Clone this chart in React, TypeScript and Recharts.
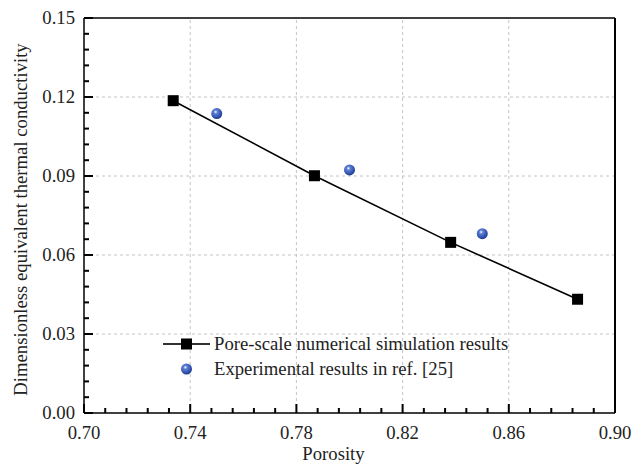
import {
  ScatterChart, Scatter, XAxis, YAxis, ReferenceLine, Legend
} from 'recharts';

// pore-scale simulation (black squares + line)
const simPorosity = [0.7336, 0.7868, 0.8381, 0.8859];
const simConductivity = [0.1186, 0.0901, 0.0648, 0.0432];

// experimental results from ref. [25] (blue spheres)
const expPorosity = [0.75, 0.80, 0.85];
const expConductivity = [0.1137, 0.0923, 0.0681];

const xMajor = [0.70, 0.74, 0.78, 0.82, 0.86, 0.90];
const xLabels = ['0.70', '0.74', '0.78', '0.82', '0.86', '0.90'];
const yMajor = [0, 0.03, 0.06, 0.09, 0.12, 0.15];
const yLabels = ['0.00', '0.03', '0.06', '0.09', '0.12', '0.15'];

const simData = simPorosity.map((x, i) => ({ x, y: simConductivity[i] }));
const expData = expPorosity.map((x, i) => ({ x, y: expConductivity[i] }));

// minor ticks: 4 between each pair of majors
const withMinor = (major: number[], n: number) => {
  const out: number[] = [];
  for (let i = 0; i < major.length - 1; i++) {
    for (let k = 0; k < n; k++) out.push(major[i] + ((major[i + 1] - major[i]) * k) / n);
  }
  out.push(major[major.length - 1]);
  return out;
};

const xTicks = withMinor(xMajor, 5);
const yTicks = withMinor(yMajor, 5);

const FONT = '"Liberation Serif", "Times New Roman", Times, serif';
const txt = { fontFamily: FONT, fontSize: 18.7, fill: '#222' };

const majorIndex = (list: number[], v: number) =>
  list.findIndex((m) => Math.abs(m - v) < 1e-9);

const XTick = (props: any) => {
  const { x, y, payload } = props;
  const i = majorIndex(xMajor, payload.value);
  const len = i >= 0 ? 9 : 5;
  return (
    <g>
      <rect x={x - 1} y={y - len} width={2} height={len} fill="#000" />
      {i >= 0 && (
        <text x={x} y={y + 26} textAnchor="middle" style={txt}>
          {xLabels[i]}
        </text>
      )}
    </g>
  );
};

const YTick = (props: any) => {
  const { x, y, payload } = props;
  const i = majorIndex(yMajor, payload.value);
  const len = i >= 0 ? 9 : 5;
  return (
    <g>
      <rect x={x} y={y - 1} width={len} height={2} fill="#000" />
      {i >= 0 && (
        <text x={x - 9} y={y + 6} textAnchor="end" style={txt}>
          {yLabels[i]}
        </text>
      )}
    </g>
  );
};

const Square = (props: any) => {
  const { cx, cy } = props;
  return <rect x={cx - 5.5} y={cy - 5.5} width={11} height={11} fill="#000" />;
};

const Sphere = (props: any) => {
  const { cx, cy } = props;
  return <circle cx={cx} cy={cy} r={5.5} fill="url(#sphere)" />;
};

const LegendBox = () => (
  <svg width={380} height={50} style={{ display: 'block' }}>
    <rect x={5} y={10.2} width={47} height={1.6} fill="#000" />
    <rect x={23} y={5.5} width={11} height={11} fill="#000" />
    <text x={56} y={17} style={txt}>
      Pore-scale numerical simulation results
    </text>
    <circle cx={28.5} cy={36} r={5.5} fill="url(#sphere)" />
    <text x={56} y={42} style={txt}>
      Experimental results in ref. [25]
    </text>
  </svg>
);

const YTitle = (props: any) => {
  const { viewBox } = props;
  const cx = viewBox.x + 27;
  const cy = viewBox.y + viewBox.height / 2 + 4;
  return (
    <text x={cx} y={cy} transform={`rotate(-90 ${cx} ${cy})`} textAnchor="middle" style={txt}>
      Dimensionless equivalent thermal conductivity
    </text>
  );
};

const XTitle = (props: any) => {
  const { viewBox } = props;
  return (
    <text x={viewBox.x + viewBox.width / 2 - 16} y={viewBox.y + 47} textAnchor="middle" style={txt}>
      Porosity
    </text>
  );
};

const App = () => {
  return (
    <div style={{ position: 'absolute', left: 0, top: 0, width: 632, height: 465, background: '#fff' }}>
      <ScatterChart width={632} height={465} margin={{ top: 18, right: 17, bottom: 0, left: 0 }}>
        <defs>
          <radialGradient id="sphere" cx="40%" cy="35%" r="65%">
            <stop offset="0%" stopColor="#ffffff" />
            <stop offset="25%" stopColor="#5f82d8" />
            <stop offset="100%" stopColor="#1c3a94" />
          </radialGradient>
        </defs>
        {xMajor.slice(1, -1).map((v) => (
          <ReferenceLine key={'gx' + v} x={v} stroke="#c4c4c4" strokeDasharray="3 3" />
        ))}
        {yMajor.slice(1, -1).map((v) => (
          <ReferenceLine key={'gy' + v} y={v} stroke="#c4c4c4" strokeDasharray="3 3" />
        ))}
        <ReferenceLine x={0.9} stroke="#000" strokeWidth={2} />
        <ReferenceLine y={0.15} stroke="#000" strokeWidth={1.5} />
        <XAxis
          type="number"
          dataKey="x"
          domain={[0.7, 0.9]}
          ticks={xTicks}
          interval={0}
          height={52}
          tickSize={0}
          tickMargin={0}
          tick={<XTick />}
          axisLine={{ stroke: '#000', strokeWidth: 1.5 }}
          label={<XTitle />}
          allowDataOverflow
        />
        <YAxis
          type="number"
          dataKey="y"
          domain={[0, 0.15]}
          ticks={yTicks}
          interval={0}
          width={84}
          tickSize={0}
          tickMargin={0}
          tick={<YTick />}
          axisLine={{ stroke: '#000', strokeWidth: 1.5 }}
          label={<YTitle />}
          allowDataOverflow
        />
        <Legend
          layout="vertical"
          align="center"
          verticalAlign="middle"
          wrapperStyle={{ left: 158, top: 333, width: 380 }}
          content={() => <LegendBox />}
        />
        <Scatter
          name="Pore-scale numerical simulation results"
          data={simData}
          line={{ stroke: '#000', strokeWidth: 1.6 }}
          lineType="joint"
          shape={<Square />}
          isAnimationActive={false}
        />
        <Scatter
          name="Experimental results in ref. [25]"
          data={expData}
          shape={<Sphere />}
          isAnimationActive={false}
        />
      </ScatterChart>
    </div>
  );
};

export default App;
